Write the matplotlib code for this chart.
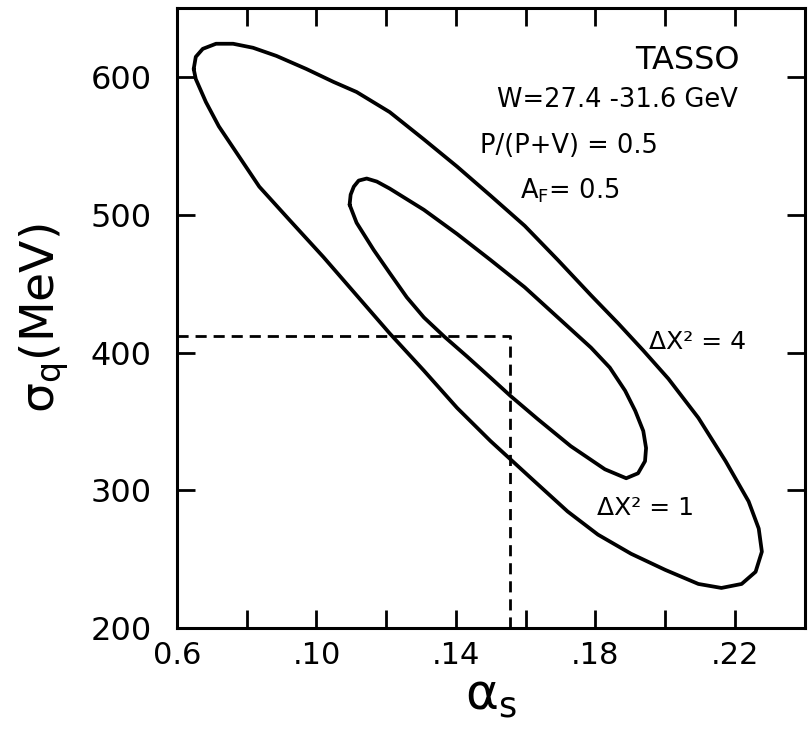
import numpy as np
import matplotlib
matplotlib.use("Agg")
import matplotlib.pyplot as plt

# contour points (alpha_s, sigma_q in MeV)
outer_alpha = [0.0648, 0.0654, 0.0674, 0.0712, 0.0761, 0.0818, 0.0885, 0.0971, 0.1049,
               0.1115, 0.1210, 0.1308, 0.1403, 0.1499, 0.1597, 0.1692, 0.1787, 0.1865,
               0.1937, 0.2009, 0.2095, 0.2173, 0.2239, 0.2268, 0.2277, 0.2259, 0.2219,
               0.2161, 0.2095, 0.2000, 0.1902, 0.1807, 0.1720, 0.1625, 0.1499, 0.1403,
               0.1308, 0.1210, 0.1115, 0.1020, 0.0922, 0.0836, 0.0778, 0.0720, 0.0683,
               0.0654]
outer_sigma = [605.8, 614.6, 620.4, 624.1, 624.1, 621.2, 615.3, 605.8, 596.4,
               589.1, 574.5, 554.7, 535.0, 513.9, 492.0, 467.2, 441.6, 421.2,
               401.5, 381.0, 352.6, 321.2, 292.0, 272.3, 255.5, 240.9, 232.1,
               229.2, 232.1, 242.3, 254.0, 267.9, 284.7, 306.6, 335.8, 359.9,
               386.9, 413.9, 441.6, 469.3, 496.4, 520.4, 542.3, 564.2, 581.8,
               598.5]

inner_alpha = [0.1095, 0.1098, 0.1107, 0.1121, 0.1144, 0.1173, 0.1210, 0.1308, 0.1403,
               0.1499, 0.1597, 0.1692, 0.1787, 0.1841, 0.1885, 0.1914, 0.1937, 0.1945,
               0.1942, 0.1922, 0.1888, 0.1827, 0.1729, 0.1634, 0.1556, 0.1499, 0.1432,
               0.1366, 0.1308, 0.1259, 0.1210, 0.1164, 0.1115]
inner_sigma = [507.3, 514.6, 520.4, 524.8, 526.3, 524.1, 519.0, 503.6, 486.1,
               467.2, 447.4, 425.5, 403.6, 389.1, 372.3, 357.7, 343.1, 330.7,
               321.2, 312.4, 308.8, 315.3, 332.1, 351.8, 368.6, 381.8, 397.1,
               411.7, 425.5, 440.1, 457.7, 474.5, 494.2]

best_alpha = 0.1556
best_sigma = 412

x_ticks = [0.06, 0.08, 0.10, 0.12, 0.14, 0.16, 0.18, 0.20, 0.22, 0.24]
x_ticklabels = ["0.6", "", ".10", "", ".14", "", ".18", "", ".22", ""]
y_ticks = [200, 300, 400, 500, 600]
y_ticklabels = ["200", "300", "400", "500", "600"]

xlim = (0.06, 0.24)
ylim = (200, 650)

fig = plt.figure(figsize=(8.08, 7.33), dpi=100)
ax = fig.add_axes([0.219, 0.143, 0.777, 0.846])

for a, s in [(outer_alpha, outer_sigma), (inner_alpha, inner_sigma)]:
    a = list(a) + [a[0]]
    s = list(s) + [s[0]]
    ax.plot(a, s, color="black", lw=2.7, solid_joinstyle="round", solid_capstyle="round")

ax.plot([xlim[0], best_alpha, best_alpha], [best_sigma, best_sigma, ylim[0]],
        color="black", lw=2.0, dashes=(4, 2.5))

ax.set_xlim(*xlim)
ax.set_ylim(*ylim)
ax.set_xticks(x_ticks)
ax.set_xticklabels(x_ticklabels, fontsize=22)
ax.set_yticks(y_ticks)
ax.set_yticklabels(y_ticklabels, fontsize=23)
ax.tick_params(direction="in", length=13, width=2, top=True, right=True)
ax.tick_params(axis="x", pad=9)
ax.tick_params(axis="y", pad=18)
for sp in ax.spines.values():
    sp.set_linewidth(2.2)

ax.set_xlabel(r"$\mathrm{\alpha_s}$", fontsize=36, labelpad=2)
ax.set_ylabel(r"$\mathrm{\sigma_q}$(MeV)", fontsize=34, labelpad=14)

ax.text(0.896, 0.916, "TASSO", transform=ax.transAxes, ha="right", va="center", fontsize=23)
ax.text(0.893, 0.852, "W=27.4 -31.6 GeV", transform=ax.transAxes, ha="right", va="center", fontsize=18.5)
ax.text(0.624, 0.777, "P/(P+V) = 0.5", transform=ax.transAxes, ha="center", va="center", fontsize=18.5)
ax.text(0.626, 0.706, r"$\mathrm{A_F}$= 0.5", transform=ax.transAxes, ha="center", va="center", fontsize=18.5)
ax.text(0.830, 0.461, "ΔX² = 4", transform=ax.transAxes, ha="center", va="center", fontsize=18)
ax.text(0.747, 0.194, "ΔX² = 1", transform=ax.transAxes, ha="center", va="center", fontsize=18)

fig.savefig("out.png", dpi=100)
